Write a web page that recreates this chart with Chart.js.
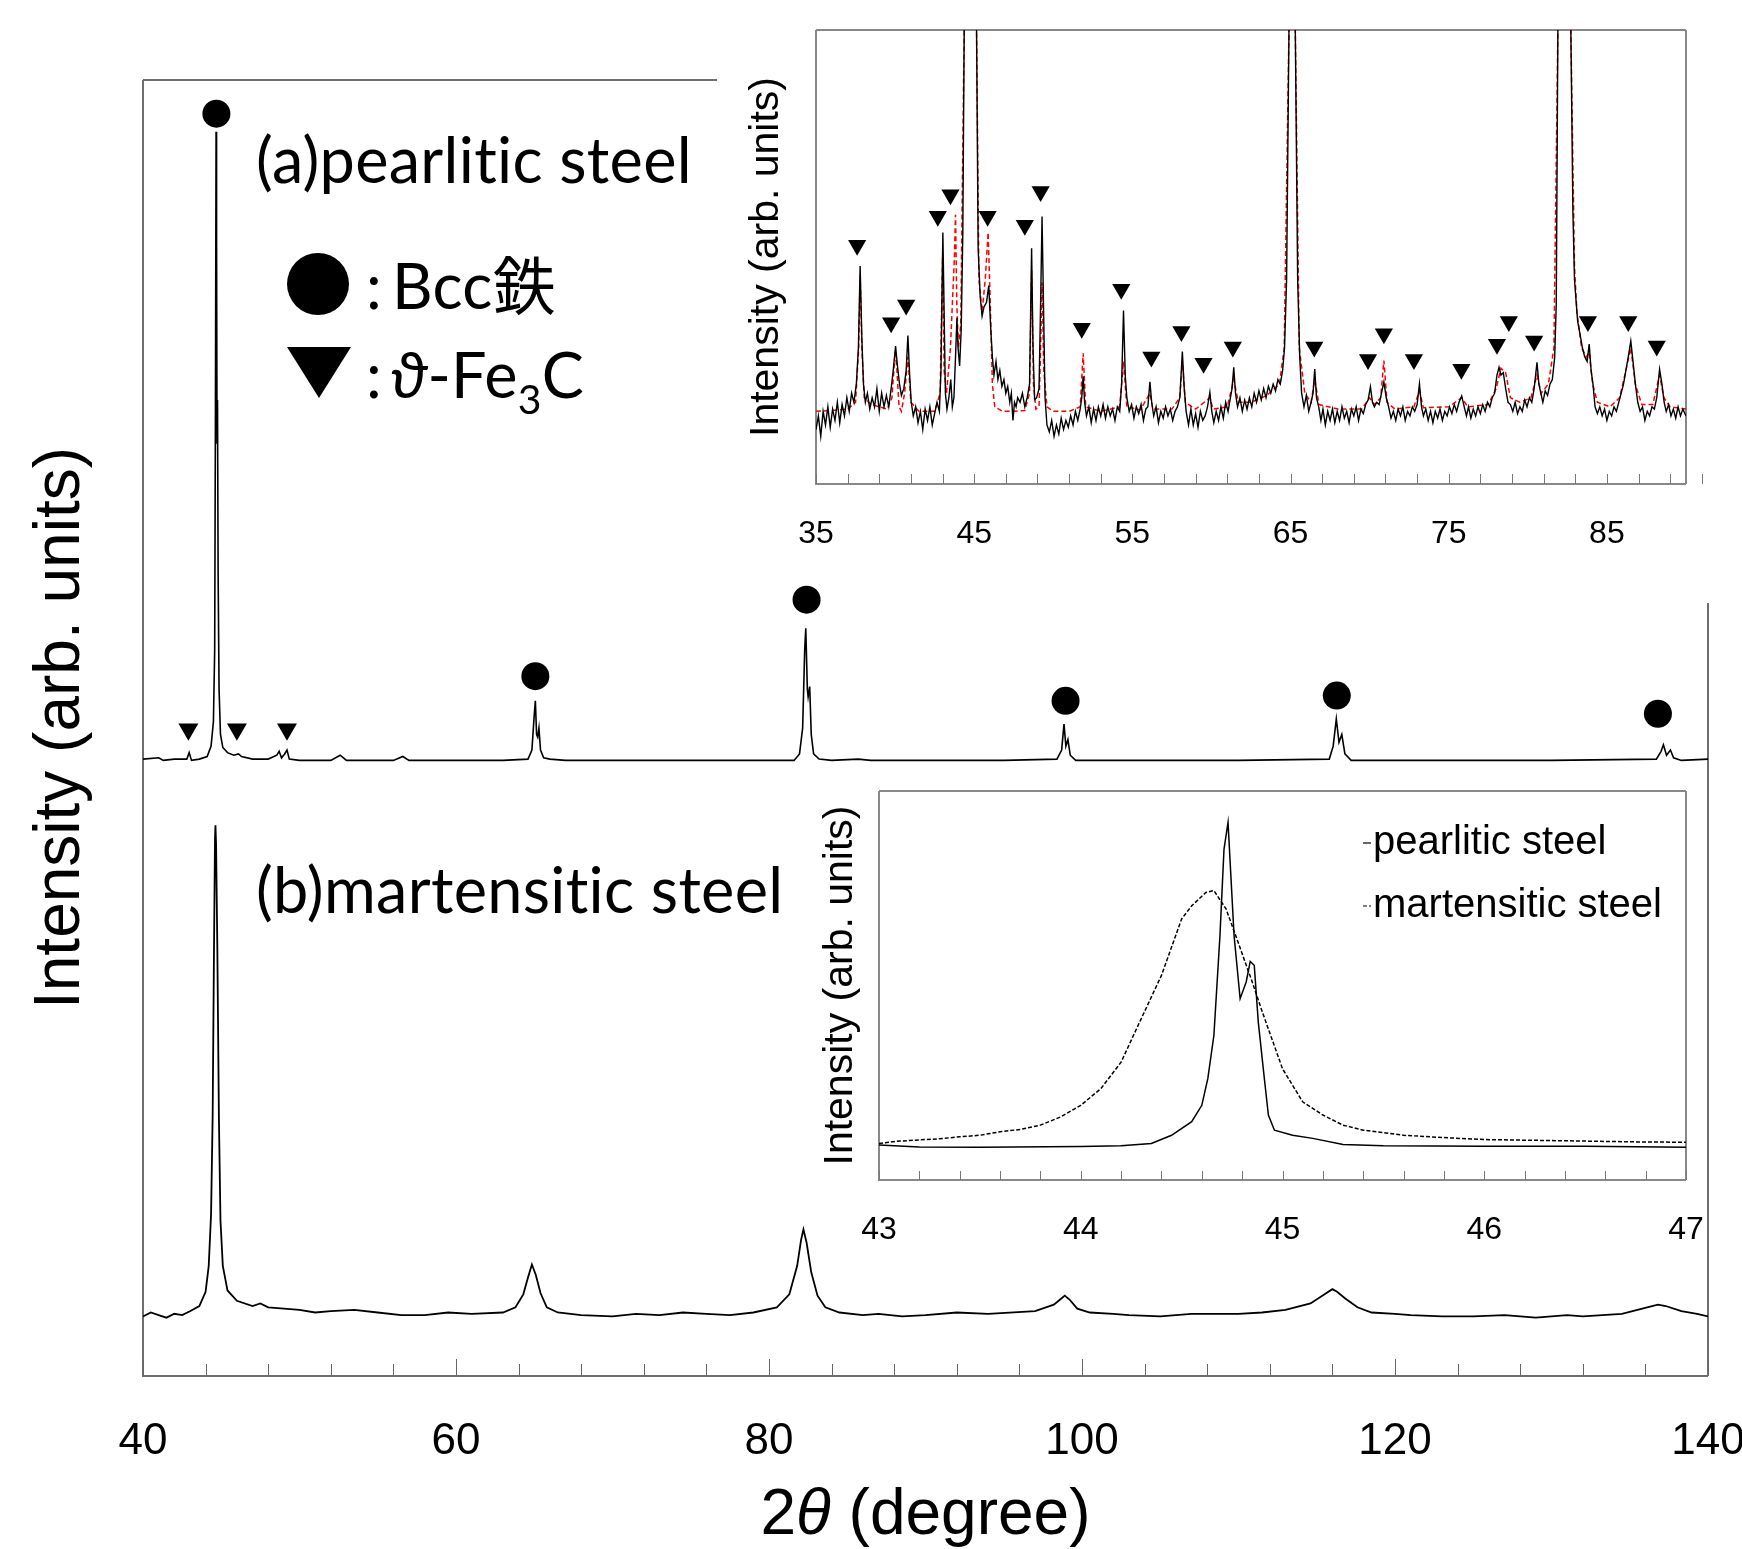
<!DOCTYPE html>
<html>
<head>
<meta charset="utf-8">
<script src="https://cdn.jsdelivr.net/npm/chart.js@4.4.1/dist/chart.umd.min.js"></script>
<style>
    html, body { margin: 0; padding: 0; background: #fff; overflow: hidden; }
    canvas { position: absolute; }
    #mainChart { left: 0; top: 0; }
    #topInset { left: 640px; top: 0; }
    #zoomInset { left: 760px; top: 700px; }
</style>
</head>
<body>
<canvas id="mainChart" width="1742" height="1549"></canvas>
<canvas id="topInset" width="1102" height="600"></canvas>
<canvas id="zoomInset" width="982" height="600"></canvas>
<script>
// ---- main pattern, 2theta 40-140 (arb. intensity 0-100) ----
const mainTickLabels = [40, 60, 80, 100, 120, 140];

const pearliticMain = [
    [40, 47.6], [41, 47.7], [41.3, 47.5], [42, 47.6], [42.8, 47.6], [42.95, 48.1], [43.1, 47.5], [43.6, 47.6],
    [44.1, 47.8], [44.35, 48.6], [44.5, 50.5], [44.58, 56], [44.63, 75], [44.67, 96], [44.7, 88], [44.73, 72],
    [44.76, 75.3], [44.8, 62], [44.86, 53], [44.95, 49.5], [45.1, 48.5], [45.4, 48.1], [45.8, 47.9], [46.1, 48.0],
    [46.3, 47.8], [47, 47.6], [48, 47.6], [48.55, 47.9], [48.7, 48.2], [48.85, 47.7], [49.05, 48.0], [49.2, 48.3],
    [49.35, 47.6], [50, 47.5], [52, 47.5], [52.6, 47.9], [53, 47.5], [56, 47.5], [56.6, 47.8], [57, 47.5],
    [60, 47.5], [63, 47.5], [64.6, 47.6], [64.85, 48.3], [65.0, 51.0], [65.07, 52.1], [65.15, 49.5], [65.22, 49.3],
    [65.3, 50.0], [65.4, 48.3], [65.6, 47.7], [66, 47.6], [67, 47.5], [70, 47.5], [74, 47.5], [78, 47.5],
    [81.6, 47.5], [81.95, 48.0], [82.15, 50], [82.28, 56], [82.35, 57.7], [82.45, 53], [82.5, 52.4], [82.6, 53.2],
    [82.7, 49.5], [82.85, 48.0], [83.2, 47.6], [84, 47.5], [85.7, 47.6], [86.5, 47.5], [90, 47.5], [95, 47.5],
    [98.4, 47.6], [98.7, 48.3], [98.85, 50.3], [98.97, 48.6], [99.1, 49.1], [99.25, 47.9], [99.6, 47.5], [105, 47.5],
    [110, 47.5], [115.8, 47.6], [116.05, 48.6], [116.25, 50.7], [116.42, 48.9], [116.6, 49.5], [116.8, 48.0], [117.2, 47.5],
    [125, 47.5], [130, 47.5], [136.7, 47.6], [137.0, 48.2], [137.15, 48.7], [137.35, 47.9], [137.6, 48.3], [137.8, 47.7],
    [138.3, 47.5], [140, 47.6]
];

const martensiticMain = [
    [40, 4.6], [40.5, 4.9], [41, 4.7], [41.5, 4.5], [42, 4.8], [42.5, 4.7], [43, 5.0], [43.6, 5.4], [44.0, 6.5],
    [44.2, 8.5], [44.35, 12.5], [44.45, 20], [44.53, 32], [44.6, 41.5], [44.63, 42.5], [44.67, 41], [44.75, 33],
    [44.85, 20], [44.95, 12], [45.1, 8.5], [45.4, 6.6], [46, 5.8], [47, 5.4], [47.5, 5.6], [48, 5.3], [49, 5.2],
    [50, 5.1], [51, 4.9], [52, 5.0], [53.5, 5.1], [55, 4.9], [56.5, 4.7], [58, 4.7], [59.5, 4.9], [61, 4.8],
    [63, 4.9], [63.8, 5.3], [64.3, 6.3], [64.6, 7.6], [64.85, 8.6], [65.1, 7.8], [65.4, 6.4], [65.8, 5.3],
    [66.5, 4.9], [68, 4.7], [70, 4.6], [71.5, 4.8], [73, 4.7], [74.5, 4.9], [76, 4.8], [77.5, 4.7], [79, 4.9],
    [80.5, 5.3], [81.3, 6.3], [81.8, 8.5], [82.05, 10.5], [82.2, 11.3], [82.4, 10.3], [82.7, 8.0], [83.1, 6.2],
    [83.6, 5.3], [84.5, 4.9], [86, 4.7], [87, 4.8], [88.5, 4.6], [90, 4.7], [92, 4.9], [94, 4.8], [97, 5.0],
    [98.2, 5.5], [98.7, 6.0], [98.9, 6.2], [99.2, 5.9], [99.7, 5.2], [100.5, 4.9], [102, 4.8], [103, 4.7],
    [105, 4.6], [107, 4.8], [110, 4.8], [111.5, 4.9], [113, 5.1], [114.6, 5.6], [115.5, 6.3], [116, 6.7],
    [116.3, 6.5], [116.8, 6.0], [117.6, 5.3], [118.5, 4.9], [120, 4.8], [121, 4.7], [123, 4.6], [125, 4.6],
    [127, 4.7], [129, 4.5], [131, 4.7], [132, 4.6], [134.5, 4.8], [135.8, 5.2], [136.8, 5.5], [137.3, 5.4],
    [138.3, 5.0], [139.3, 4.8], [140, 4.6]
];

const bccPeaksMain = [[44.69, 97.4], [65.07, 54.0], [82.4, 59.9], [98.95, 52.1], [116.28, 52.5], [136.8, 51.1]];
const cementitePeaksMain = [[42.9, 49.9], [46.0, 49.9], [49.2, 49.9]];

// ---- upper inset, 2theta 35-90 ----
const topTickLabels = [35, 45, 55, 65, 75, 85];

const measuredTop = [
    [35.0, 12], [35.15, 15], [35.3, 10.5], [35.45, 16], [35.6, 13], [35.75, 17], [35.9, 12.5], [36.05, 16.5],
    [36.2, 14], [36.35, 18], [36.5, 13.5], [36.65, 17.5], [36.8, 15], [36.95, 19], [37.1, 16], [37.25, 20],
    [37.4, 18], [37.55, 22], [37.68, 30], [37.79, 48], [37.9, 32], [38.0, 22], [38.12, 18], [38.25, 20],
    [38.4, 16.5], [38.55, 19], [38.7, 17], [38.85, 21], [39.0, 16], [39.15, 20], [39.3, 17], [39.45, 19.5],
    [39.6, 17], [39.75, 21], [39.88, 25], [40.03, 30.4], [40.15, 26], [40.28, 22], [40.4, 19.5], [40.55, 21],
    [40.7, 25], [40.81, 32.7], [40.92, 24], [41.02, 18], [41.15, 15], [41.3, 17], [41.45, 13.5], [41.6, 16],
    [41.75, 12], [41.9, 16.5], [42.05, 14], [42.2, 17], [42.35, 13], [42.5, 15.5], [42.65, 18], [42.8, 16],
    [42.9, 25], [43.02, 55.4], [43.1, 38], [43.18, 20], [43.28, 16.5], [43.4, 19], [43.52, 23], [43.62, 17],
    [43.72, 19], [43.82, 28], [43.91, 36.6], [43.98, 30], [44.08, 26], [44.18, 34], [44.28, 55], [44.37, 100],
    [44.75, 300], [45.15, 100], [45.25, 52], [45.38, 41.3], [45.5, 37], [45.62, 39], [45.78, 40], [45.92, 43.7],
    [46.05, 34], [46.15, 28], [46.25, 24], [46.38, 27], [46.5, 23], [46.62, 25], [46.75, 21.5], [46.88, 23],
    [47.0, 20], [47.12, 21.5], [47.25, 18], [47.35, 20], [47.45, 14], [47.55, 18], [47.65, 17], [47.75, 19],
    [47.9, 18], [48.05, 20], [48.2, 17], [48.35, 19], [48.5, 22], [48.63, 51.9], [48.72, 30], [48.82, 18.6],
    [48.95, 19], [49.1, 21], [49.2, 40], [49.29, 58.9], [49.38, 40], [49.48, 19], [49.6, 13], [49.75, 11.5],
    [49.9, 14], [50.05, 10.5], [50.2, 13], [50.35, 11], [50.5, 14.5], [50.65, 12], [50.8, 14], [50.95, 12.5],
    [51.1, 15], [51.25, 13], [51.4, 16], [51.55, 14], [51.7, 16.5], [51.8, 19], [51.89, 23.7], [51.98, 18],
    [52.1, 15], [52.25, 17], [52.4, 13.5], [52.55, 16.5], [52.7, 14], [52.85, 17], [53.0, 15], [53.15, 17.5],
    [53.3, 14.5], [53.45, 17], [53.6, 15], [53.75, 16.5], [53.9, 14], [54.05, 17], [54.2, 16], [54.32, 22],
    [54.44, 38.2], [54.55, 24], [54.65, 19], [54.8, 16], [54.95, 17.5], [55.1, 14.5], [55.25, 17], [55.4, 15.5],
    [55.55, 17.5], [55.7, 14], [55.85, 16.5], [55.98, 17], [56.11, 22.5], [56.22, 18], [56.35, 15], [56.5, 17],
    [56.65, 13.5], [56.8, 16], [56.95, 14.5], [57.1, 17], [57.25, 15], [57.4, 16.5], [57.55, 14], [57.7, 16],
    [57.85, 17], [58.0, 19], [58.16, 29.2], [58.28, 21], [58.4, 16], [58.55, 13], [58.7, 16.5], [58.85, 13],
    [59.0, 15.5], [59.15, 12.5], [59.3, 16], [59.45, 14], [59.6, 15], [59.75, 17], [59.9, 20.2], [60.02, 16],
    [60.15, 13.5], [60.3, 16], [60.45, 14], [60.6, 17], [60.75, 14.5], [60.9, 18], [61.05, 16], [61.2, 19],
    [61.3, 21], [61.41, 25.7], [61.52, 20], [61.65, 17], [61.8, 19], [61.95, 16], [62.1, 18.5], [62.25, 16.5],
    [62.4, 19], [62.55, 17], [62.7, 20], [62.85, 18], [63.0, 20.5], [63.15, 18.5], [63.3, 21], [63.45, 19],
    [63.6, 21.5], [63.75, 20], [63.9, 22], [64.05, 20.5], [64.2, 23], [64.35, 22], [64.5, 25], [64.62, 30],
    [64.75, 45], [64.9, 100], [65.1, 300], [65.3, 100], [65.45, 45], [65.58, 28], [65.7, 20], [65.85, 17],
    [66.0, 19.5], [66.15, 16], [66.3, 18], [66.42, 20], [66.53, 25.3], [66.64, 19], [66.78, 17], [66.92, 14],
    [67.05, 16.5], [67.2, 13], [67.35, 16], [67.5, 14], [67.65, 16.5], [67.8, 13.5], [67.95, 16], [68.1, 14],
    [68.25, 17], [68.4, 14.5], [68.55, 16], [68.7, 13.5], [68.85, 16.5], [69.0, 15], [69.15, 17], [69.3, 14],
    [69.45, 16.5], [69.6, 15.5], [69.75, 17.5], [69.9, 18.5], [70.05, 21.4], [70.18, 18], [70.3, 17], [70.45, 18],
    [70.6, 17.5], [70.75, 20], [70.9, 22.5], [71.05, 19], [71.2, 17], [71.35, 14.5], [71.5, 16], [71.65, 14],
    [71.8, 16.5], [71.95, 15], [72.1, 17], [72.25, 14], [72.4, 16], [72.55, 15], [72.7, 17], [72.85, 16],
    [73.0, 17.5], [73.15, 22.1], [73.28, 17], [73.4, 15], [73.55, 16.5], [73.7, 14], [73.85, 16], [74.0, 13.5],
    [74.15, 16], [74.3, 14.5], [74.45, 16.5], [74.6, 14], [74.75, 16], [74.9, 15], [75.05, 17], [75.2, 15.5],
    [75.35, 17.5], [75.5, 16], [75.65, 18], [75.82, 19.4], [75.98, 17], [76.12, 15], [76.25, 17], [76.4, 14.5],
    [76.55, 16.5], [76.7, 15], [76.85, 17], [77.0, 15.5], [77.15, 17.5], [77.3, 16], [77.45, 18], [77.6, 17],
    [77.75, 19], [77.9, 20], [78.05, 24], [78.18, 25.7], [78.3, 24], [78.45, 24.5], [78.6, 21], [78.75, 18],
    [78.9, 17.5], [79.05, 16], [79.2, 18], [79.35, 15.5], [79.5, 17], [79.65, 16], [79.8, 18.5], [79.95, 17],
    [80.1, 19], [80.25, 18], [80.4, 21], [80.58, 26.8], [80.7, 22], [80.82, 20], [80.95, 18], [81.1, 20.5],
    [81.25, 19.5], [81.4, 22], [81.55, 23], [81.7, 28], [81.8, 40], [81.9, 100], [82.3, 300], [82.72, 100],
    [82.85, 60], [82.95, 45], [83.03, 41.3], [83.15, 35.8], [83.3, 33], [83.45, 30], [83.6, 28], [83.75, 27],
    [83.88, 30.8], [84.0, 25], [84.12, 22], [84.25, 17], [84.4, 15.5], [84.55, 17], [84.7, 15], [84.85, 16.5],
    [85.0, 14], [85.15, 16], [85.3, 15], [85.45, 17], [85.6, 16], [85.75, 18], [85.9, 20], [86.05, 22],
    [86.2, 25], [86.35, 28], [86.51, 31.5], [86.65, 27], [86.8, 22], [86.95, 18], [87.1, 16], [87.25, 17],
    [87.4, 14], [87.55, 16], [87.7, 15], [87.85, 17], [88.0, 16.5], [88.15, 19], [88.33, 25.3], [88.48, 22],
    [88.62, 18], [88.75, 16], [88.9, 17.5], [89.05, 15], [89.2, 16.5], [89.35, 14.5], [89.5, 17], [89.65, 15],
    [89.8, 16.5], [90.0, 15]
];

const fittedTop = [
    [35.0, 16], [36, 16.2], [37, 16.5], [37.5, 18], [37.7, 30], [37.79, 46], [37.9, 30], [38.05, 19], [38.5, 17.5],
    [39.5, 16.5], [39.8, 19], [40.0, 29], [40.1, 26], [40.25, 17], [40.4, 16], [40.6, 20], [40.81, 28], [41.0, 18],
    [41.5, 16], [42.5, 16], [42.85, 20], [43.0, 50], [43.1, 25], [43.25, 20], [43.5, 30], [43.75, 50], [43.82, 59.3],
    [43.9, 40], [44.0, 30], [44.15, 35], [44.3, 80], [44.37, 100], [44.75, 300], [45.15, 100], [45.3, 45], [45.5, 38],
    [45.7, 45], [45.88, 55.4], [46.0, 42], [46.15, 22], [46.3, 17], [46.8, 16], [47.5, 16], [48.2, 16.2], [48.5, 20],
    [48.63, 47], [48.75, 22], [48.9, 16.5], [49.1, 17], [49.2, 30], [49.29, 44.4], [49.4, 25], [49.6, 17], [50, 16],
    [51, 16], [51.7, 17], [51.89, 28.8], [52.05, 17], [53, 16], [54.2, 17], [54.44, 27], [54.65, 17], [55.5, 16.3],
    [56.11, 20], [56.3, 16.5], [57.5, 16.5], [58.0, 19], [58.16, 27], [58.35, 18], [59, 16.5], [59.9, 19], [60.1, 16.5],
    [61, 17], [61.41, 23], [61.7, 18], [62.5, 18], [63.5, 19.5], [64.3, 22], [64.6, 30], [64.9, 100], [65.1, 300],
    [65.3, 100], [65.55, 30], [65.9, 20], [66.3, 18], [66.53, 23], [66.8, 17.5], [68, 16.5], [69.5, 16.5], [70.0, 19],
    [70.3, 17.5], [70.7, 19], [70.9, 27.2], [71.1, 18], [71.6, 16.5], [72.8, 17], [73.15, 20.5], [73.4, 16.8], [75, 17],
    [75.82, 19], [76.2, 17], [77.5, 17.5], [78.0, 21], [78.3, 25.5], [78.6, 24.5], [78.9, 19], [79.5, 18], [80.2, 19],
    [80.58, 24], [80.85, 20], [81.3, 22], [81.65, 30], [81.9, 100], [82.3, 300], [82.72, 100], [82.95, 48], [83.1, 38],
    [83.4, 30], [83.7, 28], [83.88, 29], [84.1, 22], [84.4, 18], [85.2, 17], [85.8, 19], [86.2, 25], [86.51, 30],
    [86.8, 22], [87.2, 17.5], [87.9, 17.5], [88.33, 24], [88.6, 19], [89, 17], [90, 16.5]
];

const cementitePeaksTop = [
    [37.6, 52.6], [39.75, 35.5], [40.7, 39.4], [42.7, 59.0], [43.5, 63.7], [45.85, 59.0], [48.2, 57.0], [49.2, 64.4],
    [51.8, 34.3], [54.3, 42.9], [56.2, 28.0], [58.1, 33.6], [59.5, 26.6], [61.35, 30.2], [66.5, 30.2], [69.9, 27.4],
    [70.9, 33.1], [72.8, 27.4], [75.8, 25.3], [78.05, 30.8], [78.8, 35.8], [80.4, 31.5], [83.8, 35.8], [86.35, 35.8],
    [88.15, 30.4]
];

// ---- lower inset, (110) peak 43-47 ----
const zoomTickLabels = [43, 44, 45, 46, 47];

const pearliticZoom = [
    [43.0, 9.0], [43.2, 8.5], [43.5, 8.4], [44.0, 8.6], [44.2, 8.8], [44.35, 9.4], [44.45, 11.5], [44.55, 15.0],
    [44.6, 19.2], [44.63, 26.1], [44.66, 37.2], [44.69, 62.8], [44.71, 85.0], [44.73, 91.9], [44.76, 62.8],
    [44.79, 46.6], [44.82, 50.9], [44.84, 56.2], [44.86, 55.2], [44.88, 40.6], [44.91, 26.1], [44.93, 16.7],
    [44.96, 12.8], [45.05, 11.5], [45.15, 10.7], [45.3, 9.1], [45.5, 8.8], [46.0, 8.7], [46.5, 8.7], [47.0, 8.4]
];

const martensiticZoom = [
    [43.0, 9.4], [43.1, 10.0], [43.2, 10.3], [43.3, 10.6], [43.4, 11.1], [43.5, 11.5], [43.6, 12.4], [43.7, 13.0],
    [43.8, 14.1], [43.9, 16.2], [44.0, 19.2], [44.1, 23.5], [44.2, 30.3], [44.3, 41.5], [44.4, 52.6], [44.5, 67.1],
    [44.55, 70.5], [44.62, 73.9], [44.66, 74.4], [44.72, 69.7], [44.78, 61.1], [44.85, 50.9], [44.9, 43.2],
    [45.0, 28.6], [45.1, 20.1], [45.2, 16.7], [45.3, 14.1], [45.4, 12.8], [45.5, 12.2], [45.6, 11.5], [45.8, 10.9],
    [46.0, 10.4], [46.25, 10.2], [46.5, 10.0], [46.75, 9.8], [47.0, 9.7]
];

const SANS = '"Liberation Sans", Arial, sans-serif';
const LABEL_FONT = 'Lato, "Noto Sans CJK JP", sans-serif';
const ZWNJ = '\u200C'; // keeps Lato from joining "ti"

Chart.defaults.font.family = SANS;
Chart.defaults.color = '#000';

const toXY = (pairs) => pairs.map(([x, y]) => ({x, y}));

// tick marks pointing into the plot from the bottom axis
const innerTicks = {
    id: 'innerTicks',
    afterDraw(chart, args, opts) {
        const {ctx, chartArea: area, scales: {x}} = chart;
        const n = Math.round((opts.to - opts.from) / opts.step);
        ctx.save();
        ctx.strokeStyle = opts.color;
        ctx.lineWidth = 1;
        for (let i = 0; i <= n; i++) {
            const v = opts.from + i * opts.step;
            const r = (v - opts.from) / opts.majorStep;
            const len = Math.abs(r - Math.round(r)) < 1e-6 ? opts.majorLen : opts.minorLen;
            const px = Math.round(x.getPixelForValue(v)) + 0.5;
            ctx.beginPath();
            ctx.moveTo(px, area.bottom);
            ctx.lineTo(px, area.bottom - len);
            ctx.stroke();
        }
        ctx.restore();
    }
};

// plot frame; sides can be cut short where the upper inset sits
const frame = {
    id: 'frame',
    beforeDatasetsDraw(chart, args, opts) {
        const {ctx, chartArea: a} = chart;
        const topEnd = opts.topEnd ?? a.right;
        const rightStart = opts.rightStart ?? a.top;
        ctx.save();
        ctx.strokeStyle = opts.color;
        ctx.lineWidth = opts.width;
        ctx.beginPath();
        ctx.moveTo(a.left, a.top); ctx.lineTo(a.left, a.bottom); ctx.lineTo(a.right, a.bottom);
        ctx.moveTo(a.right, a.bottom); ctx.lineTo(a.right, rightStart);
        ctx.moveTo(a.left, a.top); ctx.lineTo(topEnd, a.top);
        ctx.stroke();
        ctx.restore();
    }
};

// sample labels, phase key and the 2θ axis title on the main plot
const mainText = {
    id: 'mainText',
    afterDatasetsDraw(chart) {
        const ctx = chart.ctx;
        const a = chart.chartArea;
        const labelA = '(a)pearlit' + ZWNJ + 'ic steel';
        const labelB = '(b)martensit' + ZWNJ + 'ic steel';
        ctx.save();
        ctx.fillStyle = '#000';
        ctx.textBaseline = 'alphabetic';
        ctx.letterSpacing = '0.3px';

        // size the label font so "(a)pearlitic steel" spans the same width as the original
        ctx.font = '60px ' + LABEL_FONT;
        const size = 60 * 436 / ctx.measureText(labelA).width;
        const font = size.toFixed(1) + 'px ' + LABEL_FONT;
        ctx.font = font;
        ctx.fillText(labelA, 256, 183);
        ctx.fillText(labelB, 256, 913);

        ctx.beginPath();
        ctx.arc(318, 284, 31, 0, Math.PI * 2);
        ctx.fill();
        ctx.fillText(':', 366, 309);
        ctx.fillText('Bcc鉄', 392, 309);

        ctx.beginPath();
        ctx.moveTo(287, 347); ctx.lineTo(351, 347); ctx.lineTo(319, 398);
        ctx.closePath();
        ctx.fill();
        ctx.fillText(':', 366, 398);
        let x = 390;
        ctx.font = 'italic ' + font;
        ctx.fillText('ϑ', x, 398);
        x += ctx.measureText('ϑ').width;
        ctx.font = font;
        ctx.fillText('-Fe', x, 398);
        x += ctx.measureText('-Fe').width;
        ctx.font = (size * 0.65).toFixed(1) + 'px ' + LABEL_FONT;
        ctx.fillText('3', x, 414);
        x += ctx.measureText('3').width;
        ctx.font = font;
        ctx.fillText('C', x, 398);

        // x axis title with italic theta
        ctx.letterSpacing = '0px';
        const parts = [['2', ''], ['θ', 'italic '], [' (degree)', '']];
        let total = 0;
        parts.forEach(([t, st]) => { ctx.font = st + '64px ' + SANS; total += ctx.measureText(t).width; });
        let tx = (a.left + a.right) / 2 - total / 2;
        parts.forEach(([t, st]) => {
            ctx.font = st + '64px ' + SANS;
            ctx.fillText(t, tx, 1534);
            tx += ctx.measureText(t).width;
        });
        ctx.restore();
    }
};

// key of the lower inset
const zoomLegend = {
    id: 'zoomLegend',
    afterDraw(chart) {
        const ctx = chart.ctx;
        ctx.save();
        ctx.font = '40px ' + SANS;
        ctx.fillStyle = '#000';
        ctx.textBaseline = 'middle';
        chart.data.datasets.forEach((ds, i) => {
            const y = 143 + i * 63;
            ctx.strokeStyle = '#000';
            ctx.lineWidth = 1.2;
            ctx.setLineDash(ds.borderDash || []);
            ctx.beginPath();
            ctx.moveTo(603, y); ctx.lineTo(611, y);
            ctx.stroke();
            ctx.fillText(ds.label, 613, y);
        });
        ctx.restore();
    }
};

function lineSet(label, pairs, color, width, dash) {
    return {
        label: label,
        data: toXY(pairs),
        showLine: true,
        borderColor: color,
        borderWidth: width,
        borderDash: dash || [],
        pointRadius: 0,
        tension: 0
    };
}

function markerSet(pairs, style, radius) {
    return {
        data: toXY(pairs),
        showLine: false,
        pointStyle: style,
        rotation: style === 'triangle' ? 180 : 0,
        pointRadius: radius,
        backgroundColor: '#000',
        borderWidth: 0
    };
}

function xScale(min, max, labels, fontSize, pad) {
    return {
        type: 'linear',
        min: min,
        max: max,
        afterBuildTicks: (s) => { s.ticks = labels.map(v => ({value: v})); },
        afterFit: (s) => { s.paddingRight = 0; s.paddingLeft = 0; },
        grid: {display: false, drawTicks: false},
        border: {display: false},
        ticks: {font: {size: fontSize}, padding: pad, maxRotation: 0, autoSkip: false, color: '#000'}
    };
}

function yScale(title, fontSize, padTop, padBottom) {
    return {
        min: 0,
        max: 100,
        grid: {display: false, drawTicks: false},
        border: {display: false},
        ticks: {display: false},
        title: {display: true, text: title, font: {size: fontSize}, color: '#000',
            padding: {top: padTop, bottom: padBottom}}
    };
}

const commonOpts = {
    responsive: false,
    animation: false,
    events: [],
    plugins: {legend: {display: false}, tooltip: {enabled: false}}
};

new Chart(document.getElementById('mainChart'), {
    type: 'scatter',
    data: {
        datasets: [
            lineSet('pearlitic steel', pearliticMain, '#000', 1.6),
            lineSet('martensitic steel', martensiticMain, '#000', 1.8),
            markerSet(bccPeaksMain, 'circle', 14),
            markerSet(cementitePeaksMain, 'triangle', 11.5)
        ]
    },
    options: {
        ...commonOpts,
        layout: {padding: {left: 16, right: 34, top: 80, bottom: 41}},
        scales: {
            x: xScale(40, 140, mainTickLabels, 44, 39.6),
            y: yScale('Intensity (arb. units)', 64, 6.6, 43.6)
        },
        plugins: {
            ...commonOpts.plugins,
            innerTicks: {from: 40, to: 140, step: 4, majorStep: 20, minorLen: 12, majorLen: 17, color: '#666'},
            frame: {color: '#6e6e6e', width: 2, topEnd: 717, rightStart: 603}
        }
    },
    plugins: [innerTicks, frame, mainText]
});

new Chart(document.getElementById('topInset'), {
    type: 'scatter',
    data: {
        datasets: [
            lineSet('measured', measuredTop, '#000', 1.4),
            lineSet('fitted', fittedTop, '#ff0000', 1.5, [5, 3]),
            markerSet(cementitePeaksTop, 'triangle', 10.5)
        ]
    },
    options: {
        ...commonOpts,
        layout: {padding: {left: 90, right: 56, top: 30, bottom: 16}},
        scales: {
            x: xScale(35, 90, topTickLabels, 32, 30.8),
            y: yScale('Intensity (arb. units)', 41, 12.4, 24.4)
        },
        plugins: {
            ...commonOpts.plugins,
            innerTicks: {from: 35, to: 90, step: 2, majorStep: 2, minorLen: 10, majorLen: 10, color: '#777'},
            frame: {color: '#888', width: 2}
        }
    },
    plugins: [innerTicks, frame]
});

new Chart(document.getElementById('zoomInset'), {
    type: 'scatter',
    data: {
        datasets: [
            lineSet('pearlitic steel', pearliticZoom, '#000', 1.5),
            lineSet('martensitic steel', martensiticZoom, '#000', 1.5, [4, 2])
        ]
    },
    options: {
        ...commonOpts,
        layout: {padding: {left: 40, right: 56, top: 91, bottom: 20}},
        scales: {
            x: xScale(43, 47, zoomTickLabels, 32, 30.8),
            y: yScale('Intensity (arb. units)', 41, 16.4, 13.4)
        },
        plugins: {
            ...commonOpts.plugins,
            innerTicks: {from: 43, to: 47, step: 0.2, majorStep: 0.2, minorLen: 9, majorLen: 9, color: '#777'},
            frame: {color: '#888', width: 2}
        }
    },
    plugins: [innerTicks, frame, zoomLegend]
});
</script>
</body>
</html>
